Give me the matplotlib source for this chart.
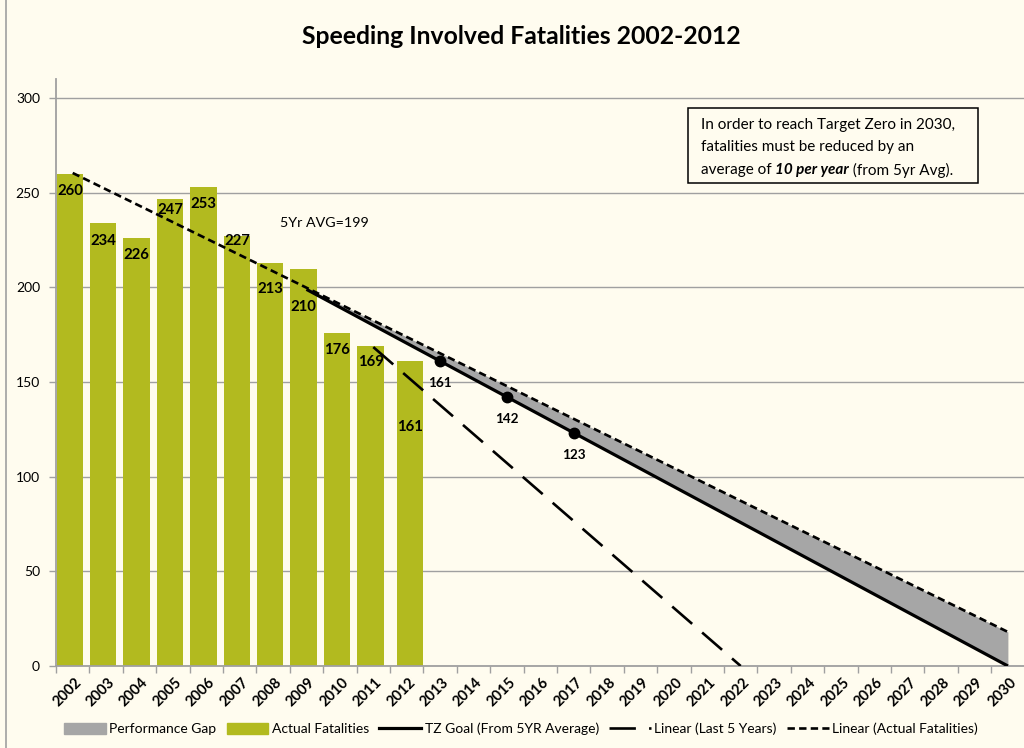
import numpy as np
import matplotlib
matplotlib.use("Agg")
import matplotlib.pyplot as plt
import matplotlib.transforms as mtransforms
from matplotlib.patches import Patch, Rectangle
from matplotlib.lines import Line2D

plt.rcParams['font.family'] = ['Lato', 'DejaVu Sans']

# ---- data -------------------------------------------------------------
years = list(range(2002, 2031))
bar_years = list(range(2002, 2013))
actual = [260, 234, 226, 247, 253, 227, 213, 210, 176, 169, 161]

# straight trend / goal lines, given by their end points
actual_trend_years = [2002, 2030]
actual_trend_values = [260.5, 18]
last5_trend_years = [2011, 2022]
last5_trend_values = [168.5, 0]
goal_years = [2009, 2030]
goal_values = [199, 0]
goal_marker_years = [2013, 2015, 2017]
goal_marker_values = [161, 142, 123]
five_yr_avg = 199

# ---- style ------------------------------------------------------------
BG = '#FFFCEF'
GREEN = '#B2BA1F'
GAP = '#A6A6A6'
GRID = '#A0A0A0'
bar_shift = [0.02] * 10 + [0.2]
bar_width = 0.79
# vertical offsets (pixels below bar top) of the value labels
label_drop = [17, 18, 17, 11, 17, 5, 26, 38, 17, 16, 66]

W, H = 1024, 748
fig = plt.figure(figsize=(W / 100, H / 100), dpi=100, facecolor=BG)
ax = fig.add_axes([56 / W, 1 - 666 / H, (1024.6 - 56) / W, (666 - 79.3) / H])
ax.set_facecolor(BG)


def xpos(y):
    return years.index(y) + 0.5


ax.set_xlim(0, len(years))
ax.set_ylim(0, 310)

# grid
ax.set_yticks(np.arange(0, 301, 50))
ax.yaxis.grid(True, color=GRID, lw=1.0)
ax.set_axisbelow(True)

# bars
bx = [years.index(y) + s for y, s in zip(bar_years, bar_shift)]
ax.bar(bx, actual, width=bar_width, align='edge', color=GREEN, zorder=2)
for x, v, d in zip(bx, actual, label_drop):
    ax.annotate(str(v), (x + bar_width / 2, v), xytext=(0, -d),
                textcoords='offset pixels', ha='center', va='center',
                fontsize=10.7, fontweight='bold', color='black', zorder=5)

# performance gap
gx = [xpos(y) for y in goal_years]
ax_line_x = [xpos(y) for y in actual_trend_years]
gap_top = np.interp(gx, ax_line_x, actual_trend_values)
ax.fill_between(gx, goal_values, gap_top, color=GAP, lw=0, zorder=3)

# lines
ax.plot(ax_line_x, actual_trend_values, color='black', lw=1.9,
        dashes=(2.8, 1.6), zorder=4)
ax.plot([xpos(y) for y in last5_trend_years], last5_trend_values,
        color='black', lw=1.9, dashes=(10, 5), zorder=4)
ax.plot(gx, goal_values, color='black', lw=2.3, solid_capstyle='butt',
        zorder=4)
mx = [xpos(y) for y in goal_marker_years]
ax.plot(mx, goal_marker_values, 'o', color='black', ms=7.5, zorder=5)
for x, v in zip(mx, goal_marker_values):
    ax.annotate(str(v), (x, v), xytext=(0, -22), textcoords='offset pixels',
                ha='center', va='center', fontsize=9.7, fontweight='bold')

ax.text(6.7, 234.3, f'5Yr AVG={five_yr_avg}', ha='left', va='center',
        fontsize=10.3)

# axes styling
for s in ('top', 'right'):
    ax.spines[s].set_visible(False)
for s in ('left', 'bottom'):
    ax.spines[s].set_color(GRID)
    ax.spines[s].set_linewidth(1.3)
ax.tick_params(axis='y', direction='out', length=5, color=GRID, width=1,
               labelsize=10, pad=6.5)
ax.set_xticks(np.arange(0, len(years) + 1))
ax.set_xticklabels([])
ax.set_xticks(np.arange(len(years)) + 0.5, minor=True)
ax.set_xticklabels([str(y) for y in years], minor=True, rotation=45,
                   ha='right', va='top', fontsize=10.5, fontweight='bold',
                   rotation_mode='anchor')
ax.tick_params(axis='x', which='major', direction='out', length=5,
               color=GRID, width=1)
ax.tick_params(axis='x', which='minor', length=0, pad=7)
shift = mtransforms.ScaledTranslation(1.5 / 100, 0, fig.dpi_scale_trans)
for lbl in ax.get_xticklabels(minor=True):
    lbl.set_transform(lbl.get_transform() + shift)

# title
fig.text(521 / W, 1 - 37 / H, 'Speeding Involved Fatalities 2002-2012',
         ha='center', va='center', fontsize=17.8, fontweight='bold')

# chart border on the left
fig.add_artist(Line2D([6 / W, 6 / W], [0, 1], color=GRID, lw=1.2,
                      transform=fig.transFigure))

# note box
fig.add_artist(Rectangle((688 / W, 1 - 183.3 / H), (977.7 - 688) / W,
                         (183.3 - 108.3) / H, transform=fig.transFigure,
                         fill=False, ec='black', lw=1.1))
tx = 700.7 / W
NOTE_FS = 11
fig.text(tx, 1 - 125 / H, 'In order to reach Target Zero in 2030,',
         ha='left', va='center', fontsize=NOTE_FS)
fig.text(tx, 1 - 147.5 / H, 'fatalities must be reduced by an',
         ha='left', va='center', fontsize=NOTE_FS)
y3 = 1 - 170 / H
parts = [('average of ', 'normal', 'normal'),
         ('10 per year', 'bold', 'italic'),
         (' (from 5yr Avg).', 'normal', 'normal')]
fig.canvas.draw()
r = fig.canvas.get_renderer()
cx = tx
for s, w, st in parts:
    t = fig.text(cx, y3, s, ha='left', va='center', fontsize=NOTE_FS,
                 fontweight=w, fontstyle=st)
    cx += t.get_window_extent(r).width / W

# legend
handles = [Patch(color=GAP), Patch(color=GREEN),
           Line2D([], [], color='black', lw=2.3),
           Line2D([], [], color='black', lw=1.9, dashes=(10, 5)),
           Line2D([], [], color='black', lw=1.9, dashes=(2.8, 1.6))]
labels = ['Performance Gap', 'Actual Fatalities', 'TZ Goal (From 5YR Average)',
          'Linear (Last 5 Years)', 'Linear (Actual Fatalities)']
fig.legend(handles, labels, loc='center', bbox_to_anchor=(521 / W, 1 - 729 / H),
           ncol=5, frameon=False, fontsize=10, handlelength=3,
           handleheight=0.8, handletextpad=0.25, columnspacing=0.75)

fig.savefig('out.png', dpi=100, facecolor=BG)
